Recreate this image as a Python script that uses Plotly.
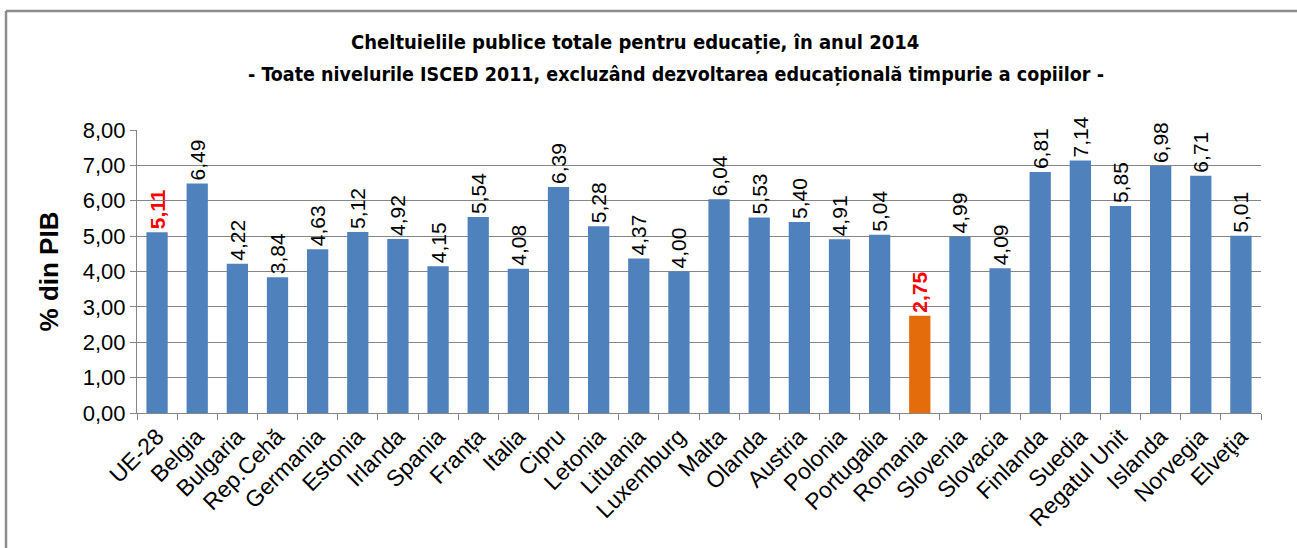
import plotly.graph_objects as go

categories = ["UE-28", "Belgia", "Bulgaria", "Rep.Cehă", "Germania", "Estonia", "Irlanda", "Spania",
              "Franța", "Italia", "Cipru", "Letonia", "Lituania", "Luxemburg", "Malta", "Olanda",
              "Austria", "Polonia", "Portugalia", "Romania", "Slovenia", "Slovacia", "Finlanda",
              "Suedia", "Regatul Unit", "Islanda", "Norvegia", "Elveţia"]
values = [5.11, 6.49, 4.22, 3.84, 4.63, 5.12, 4.92, 4.15, 5.54, 4.08, 6.39, 5.28, 4.37, 4.00,
          6.04, 5.53, 5.40, 4.91, 5.04, 2.75, 4.99, 4.09, 6.81, 7.14, 5.85, 6.98, 6.71, 5.01]
highlight = ["UE-28", "Romania"]
y_ticks = [0, 1, 2, 3, 4, 5, 6, 7, 8]
title_line1 = "Cheltuielile publice totale pentru educație, în anul 2014"
title_line2 = "- Toate nivelurile ISCED 2011, excluzând dezvoltarea educațională timpurie a copiilor -"

BLUE = "#4F81BD"
ORANGE = "#E46C0A"

colors = [ORANGE if c == "Romania" else BLUE for c in categories]
labels = [f"{v:.2f}".replace(".", ",") for v in values]
label_colors = ["#FF0000" if c in highlight else "#000000" for c in categories]
label_text = [f"<b>{t}</b>" if c in highlight else t for t, c in zip(labels, categories)]

fig = go.Figure()
fig.add_trace(go.Bar(
    x=categories, y=values,
    marker=dict(color=colors, line=dict(width=0)),
    text=label_text, textposition="outside", textangle=-90,
    constraintext="none",
    textfont=dict(family="Arial, Liberation Sans", size=21, color=label_colors),
    cliponaxis=False,
))

W, H = 1297, 548
L, R, T, B = 137, 36, 130, 135
pw, ph = W - L - R, H - T - B

def px(x):
    return (x - L) / pw

def py(y):
    return (H - B - y) / ph

title_font = dict(family="DejaVu Sans Condensed, Liberation Sans Narrow, Liberation Sans", size=20, color="#000000")

fig.update_layout(
    width=W, height=H,
    margin=dict(l=L, r=R, t=T, b=B),
    paper_bgcolor="white", plot_bgcolor="white",
    bargap=0.47,
    showlegend=False,
    font=dict(family="Arial, Liberation Sans", color="#000000"),
    xaxis=dict(
        type="category", tickangle=-45, tickfont=dict(size=23),
        showline=True, linecolor="#868686", linewidth=1,
        ticks="outside", ticklen=6, tickcolor="#868686", tickson="boundaries",
        showgrid=False, automargin=False,
    ),
    yaxis=dict(
        range=[0, 8], tickvals=y_ticks,
        ticktext=[f"{v:.2f}".replace(".", ",") for v in y_ticks],
        tickfont=dict(size=22),
        showline=True, linecolor="#868686", linewidth=1,
        ticks="outside", ticklen=6, tickcolor="#868686",
        showgrid=True, gridcolor="#868686", gridwidth=1,
        title=dict(text="<b>% din PIB</b>", font=dict(size=26), standoff=16),
        zeroline=False, automargin=False,
    ),
    annotations=[
        dict(text=f"<b>{title_line1}</b>", xref="paper", yref="paper", x=px(635), y=py(42),
             xanchor="center", yanchor="middle", showarrow=False, font=title_font),
        dict(text=f"<b>{title_line2}</b>", xref="paper", yref="paper", x=px(676), y=py(75),
             xanchor="center", yanchor="middle", showarrow=False,
             font=dict(family=title_font["family"], size=19.5, color="#000000")),
    ],
    shapes=[
        dict(type="line", xref="paper", yref="paper", x0=px(6), x1=px(1300), y0=py(11), y1=py(11),
             line=dict(color="#8C8C8C", width=2.5)),
        dict(type="line", xref="paper", yref="paper", x0=px(6), x1=px(6), y0=py(11), y1=py(550),
             line=dict(color="#8C8C8C", width=2.5)),
    ],
)

fig.write_html("out.html", config={"displayModeBar": False},
               post_script="document.body.style.margin='0';document.body.style.overflow='hidden';")
